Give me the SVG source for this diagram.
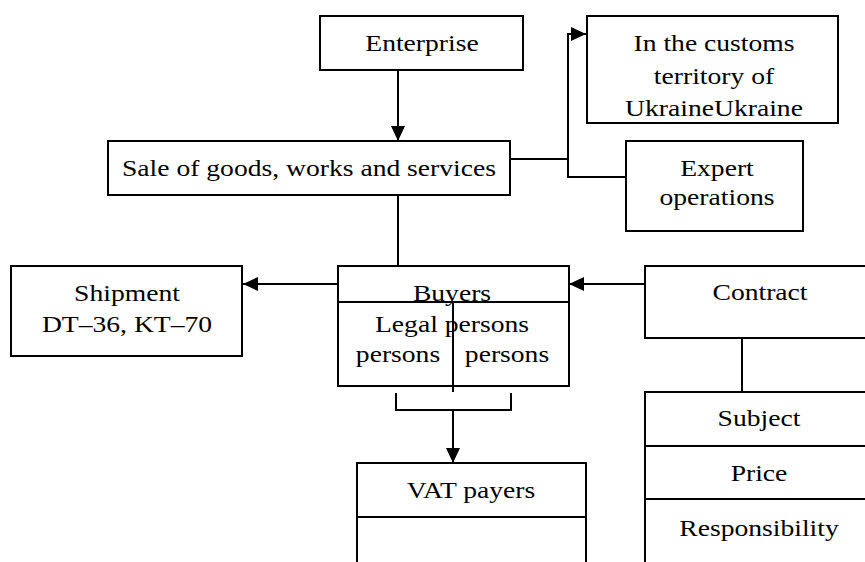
<svg xmlns="http://www.w3.org/2000/svg" width="865" height="562" viewBox="0 0 865 562">
  <style>
    .box { fill: #ffffff; stroke: #000000; stroke-width: 2; }
    .ln { fill: none; stroke: #000000; stroke-width: 2; }
    text { font-family: "Liberation Serif", "DejaVu Serif", "Times New Roman", serif; font-size: 24px; fill: #000000; text-anchor: middle; }
  </style>
  <defs>
    <marker id="arrow" markerUnits="userSpaceOnUse" markerWidth="16" markerHeight="14" refX="15" refY="7" orient="auto">
      <path d="M0,0 L15,7 L0,14 Z" fill="#000000"/>
    </marker>
  </defs>
  <rect width="865" height="562" fill="#ffffff"/>

  <!-- connectors -->
  <g id="connectors">
    <line class="ln" x1="398" y1="70" x2="398" y2="141" marker-end="url(#arrow)"/>
    <polyline class="ln" points="510,159 568,159"/>
    <polyline class="ln" points="626,177 568,177 568,34 586,34" marker-end="url(#arrow)"/>
    <line class="ln" x1="398" y1="195" x2="398" y2="266"/>
    <line class="ln" x1="338" y1="284" x2="243" y2="284" marker-end="url(#arrow)"/>
    <line class="ln" x1="645" y1="284" x2="569" y2="284" marker-end="url(#arrow)"/>
    <line class="ln" x1="742" y1="338" x2="742" y2="392"/>
    <polyline class="ln" points="396,393 396,410 511,410 511,393"/>
    <line class="ln" x1="453" y1="410" x2="453" y2="463" marker-end="url(#arrow)"/>
  </g>

  <!-- text is widened slightly: scale(1.15 1) on each label -->
  <g id="enterprise">
    <rect class="box" x="320" y="16" width="203" height="54"/>
    <text transform="translate(422 51) scale(1.15 1)">Enterprise</text>
  </g>

  <g id="sale">
    <rect class="box" x="108" y="141" width="402" height="54"/>
    <text transform="translate(309 176) scale(1.15 1)">Sale of goods, works and services</text>
  </g>

  <g id="customs">
    <rect class="box" x="587" y="16" width="251" height="107"/>
    <text transform="translate(714 51) scale(1.15 1)">In the customs</text>
    <text transform="translate(714 84) scale(1.15 1)">territory of</text>
    <text transform="translate(714 116) scale(1.15 1)">UkraineUkraine</text>
  </g>

  <g id="expert">
    <rect class="box" x="626" y="141" width="177" height="90"/>
    <text transform="translate(717 176) scale(1.15 1)">Expert</text>
    <text transform="translate(717 205) scale(1.15 1)">operations</text>
  </g>

  <g id="shipment">
    <rect class="box" x="11" y="266" width="231" height="90"/>
    <text transform="translate(127 301) scale(1.15 1)">Shipment</text>
    <text transform="translate(127 332) scale(1.15 1)">DT–36, KT–70</text>
  </g>

  <g id="buyers">
    <rect class="box" x="338" y="266" width="231" height="120"/>
    <line class="ln" x1="338" y1="302" x2="569" y2="302"/>
    <text transform="translate(452 301) scale(1.15 1)">Buyers</text>
    <text transform="translate(452 332) scale(1.15 1)">Legal persons</text>
    <text transform="translate(398 362) scale(1.15 1)">persons</text>
    <text transform="translate(507 362) scale(1.15 1)">persons</text>
    <line class="ln" x1="453" y1="302" x2="453" y2="392"/>
  </g>

  <g id="contract">
    <rect class="box" x="645" y="266" width="230" height="72"/>
    <text transform="translate(760 300) scale(1.15 1)">Contract</text>
  </g>

  <g id="contract-terms">
    <rect class="box" x="645" y="392" width="230" height="180"/>
    <line class="ln" x1="645" y1="446" x2="875" y2="446"/>
    <line class="ln" x1="645" y1="499" x2="875" y2="499"/>
    <text transform="translate(759 426) scale(1.15 1)">Subject</text>
    <text transform="translate(759 481) scale(1.15 1)">Price</text>
    <text transform="translate(759 536) scale(1.15 1)">Responsibility</text>
  </g>

  <g id="vat-payers">
    <rect class="box" x="357" y="463" width="229" height="109"/>
    <line class="ln" x1="357" y1="517" x2="586" y2="517"/>
    <text transform="translate(471 498) scale(1.15 1)">VAT payers</text>
  </g>
</svg>
